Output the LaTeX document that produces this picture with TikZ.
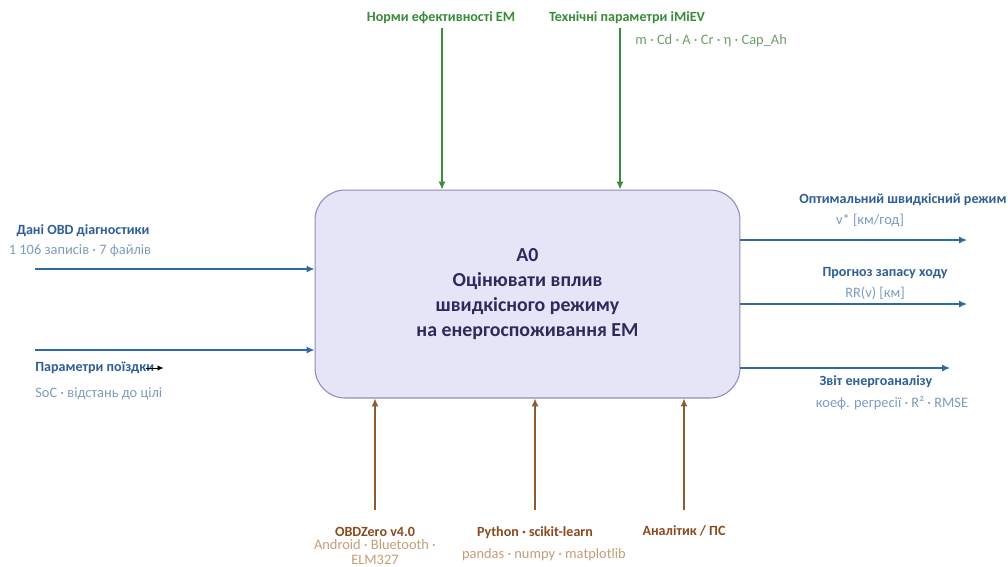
\documentclass[tikz,border=0pt]{standalone}
\usepackage{fontspec}
\setmainfont{Carlito}
\usepackage{tikz}
\usetikzlibrary{arrows.meta,positioning,calc}

\definecolor{boxfill}{HTML}{E6E4F7}
\definecolor{boxline}{HTML}{8F8BBF}
\definecolor{boxtext}{HTML}{2E2A5C}
\definecolor{inblue}{HTML}{2F69A6}
\definecolor{inlabel}{HTML}{2F5F93}
\definecolor{insub}{HTML}{7C9CC0}
\definecolor{ctlgreen}{HTML}{3C8C3C}
\definecolor{ctllabel}{HTML}{3A8A3A}
\definecolor{ctlsub}{HTML}{6E9E6E}
\definecolor{mechbrown}{HTML}{8E5A2E}
\definecolor{mechlabel}{HTML}{8A4A1E}
\definecolor{mechsub}{HTML}{C49E78}

\tikzset{
  flow/.style={line width=0.7pt,-{Latex[length=4.5pt,width=4pt]}},
  lbl/.style={font=\fontsize{8}{9.5}\selectfont\bfseries,inner sep=0pt},
  sub/.style={font=\fontsize{8.2}{8.6}\selectfont,inner sep=0pt},
}

\begin{document}
\begin{tikzpicture}[x=0.02cm,y=-0.02cm]
  \useasboundingbox[fill=white] (0,0) rectangle (1008,566);

  % activity box
  \node[draw=boxline,fill=boxfill,rounded corners=0.6cm,line width=0.6pt,
        minimum width=8.5cm,minimum height=4.16cm,align=center,text=boxtext,
        font=\fontsize{11.3}{14.3}\selectfont\bfseries] (a0) at (527.5,294)
        {A0\\Оцінювати вплив\\швидкісного режиму\\на енергоспоживання ЕМ};

  % inputs
  \coordinate (in1) at (35,269);
  \coordinate (in2) at (35,350);
  \draw[flow,inblue] (in1) -- (in1 -| a0.west);
  \draw[flow,inblue] (in2) -- (in2 -| a0.west);
  \node[lbl,text=inlabel] (obd) at (83,231) {Дані OBD діагностики};
  \node[sub,text=insub] (obdsub) at (80,251) {1 106 записів · 7 файлів};
  \node[lbl,text=inlabel,anchor=west] (trip) at (35,368) {Параметри поїздки};
  \node[sub,text=insub,anchor=west] (tripsub) at (35,394) {SoC · відстань до цілі};
  \draw[line width=0.5pt,-{Latex[length=3.5pt,width=3pt]}] ([xshift=-5pt]trip.east) -- ++(18,0);

  % controls
  \coordinate (c1) at (442,28);
  \coordinate (c2) at (620,28);
  \draw[flow,ctlgreen] (c1) -- (c1 |- a0.north);
  \draw[flow,ctlgreen] (c2) -- (c2 |- a0.north);
  \node[lbl,text=ctllabel] (norm) at (441,18) {Норми ефективності ЕМ};
  \node[lbl,text=ctllabel] (tech) at (627,18) {Технічні параметри iMiEV};
  \node[sub,text=ctlsub,anchor=west] (techsub) at (635,41) {m · Cd · A · Cr · η · Cap\_Ah};

  % outputs
  \coordinate (o1) at (967,240);
  \coordinate (o2) at (967,304);
  \coordinate (o3) at (950,368);
  \draw[flow,inblue] (o1 -| a0.east) -- (o1);
  \draw[flow,inblue] (o2 -| a0.east) -- (o2);
  \draw[flow,inblue] (o3 -| a0.east) -- (o3);
  \node[lbl,text=inlabel,anchor=west] (opt) at (799,200) {Оптимальний швидкісний режим};
  \node[sub,text=insub] (optsub) at (870,220) {v* [км/год]};
  \node[lbl,text=inlabel] (range) at (885,273) {Прогноз запасу ходу};
  \node[sub,text=insub] (rangesub) at (875,293) {RR(v) [км]};
  \node[lbl,text=inlabel] (rep) at (876,382) {Звіт енергоаналізу};
  \node[sub,text=insub] (repsub) at (892,403) {коеф. регресії · R² · RMSE};

  % mechanisms
  \coordinate (m1) at (375,510);
  \coordinate (m2) at (535,510);
  \coordinate (m3) at (684,510);
  \draw[flow,mechbrown] (m1) -- (m1 |- a0.south);
  \draw[flow,mechbrown] (m2) -- (m2 |- a0.south);
  \draw[flow,mechbrown] (m3) -- (m3 |- a0.south);
  \node[lbl,text=mechlabel] (obdz) at (375,532) {OBDZero v4.0};
  \node[sub,text=mechsub,align=center] (obdzsub) at (375,552) {Android · Bluetooth ·\\ELM327};
  \node[lbl,text=mechlabel] (py) at (535,533) {Python · scikit-learn};
  \node[sub,text=mechsub] (pysub) at (544,555) {pandas · numpy · matplotlib};
  \node[lbl,text=mechlabel] (anal) at (684,531) {Аналітик / ПС};
\end{tikzpicture}
\end{document}
